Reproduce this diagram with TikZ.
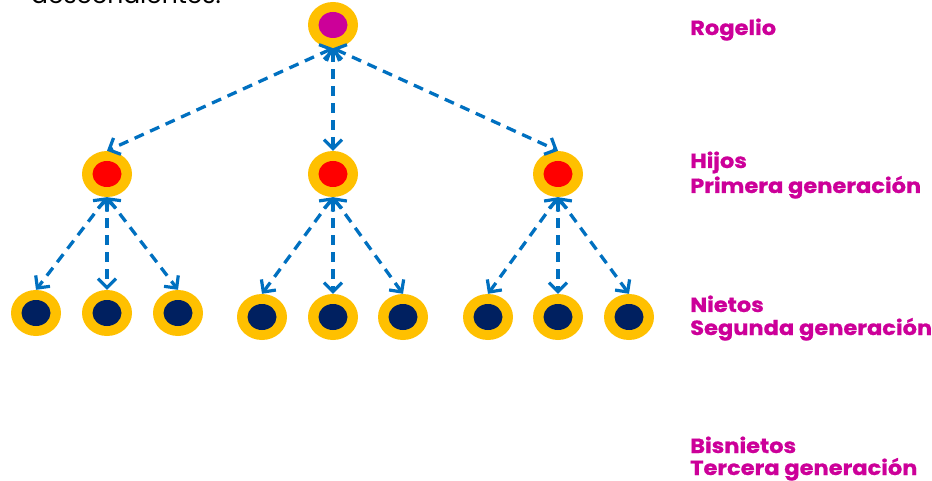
\documentclass[tikz,border=0pt]{standalone}
\usepackage{fontspec}
\setmainfont{Poppins}
\newfontfamily\labfont{Poppins}[FakeStretch=1.1,FakeBold=0.8]
\usetikzlibrary{arrows.meta,shapes.geometric}
\definecolor{gold}{HTML}{FFC000}
\definecolor{rootc}{HTML}{CC0099}
\definecolor{childc}{HTML}{FF0000}
\definecolor{grandc}{HTML}{002060}
\definecolor{arrowc}{HTML}{0070C0}
\definecolor{labc}{HTML}{CC0099}
\tikzset{
  person/.style={ellipse, fill=gold, minimum width=50pt, minimum height=46pt, inner sep=0pt},
  tipbarb/.style={Straight Barb[length=9pt,width=18pt,line width=3.2pt]},
  link/.style={arrowc, line width=3.3pt, dash pattern=on 10pt off 7pt,
    {Straight Barb[length=9pt,width=18pt,line width=3.2pt]}-{Straight Barb[length=9pt,width=18pt,line width=3.2pt]}},
  genlab/.style={anchor=base west, text=labc, font=\labfont\bfseries\fontsize{20.5}{25}\selectfont, inner sep=0pt},
}
\newcommand{\inner}[2]{\fill[#2] (#1.center) ellipse (14.5pt and 13pt);}
\begin{document}
\begin{tikzpicture}[x=1pt,y=-1pt]
\useasboundingbox (0,0) rectangle (932,481);
\node[anchor=base west, font=\fontsize{25}{30}\selectfont, inner sep=0pt] (intro) at (31,4) {descendientes.};
% root
\node[person] (r) at (333,25) {};
% children
\node[person] (a) at (107,174) {};
\node[person] (b) at (333,174) {};
\node[person] (c) at (558,174) {};
% grandchildren
\node[person] (a1) at (36,313) {};
\node[person] (a2) at (107,313) {};
\node[person] (a3) at (178,313) {};
\node[person] (b1) at (262,317) {};
\node[person] (b2) at (333,317) {};
\node[person] (b3) at (403,317) {};
\node[person] (c1) at (488,317) {};
\node[person] (c2) at (558,317) {};
\node[person] (c3) at (629,317) {};
\inner{r}{rootc}
\foreach \n in {a,b,c} {\inner{\n}{childc}}
\foreach \n in {a1,a2,a3,b1,b2,b3,c1,c2,c3} {\inner{\n}{grandc}}
% connectors
\foreach \n in {a,b,c} {\draw[link] (r.south) -- (\n.north);}
\foreach \p in {a,b,c} {\foreach \k in {1,2,3} {\draw[link] (\p.south) -- (\p\k.north);}}
% labels
\node[genlab] (l0) at (690,35) {Rogelio};
\node[genlab] (l1a) at (690,168) {Hijos};
\node[genlab] (l1b) at (690,193) {Primera generación};
\node[genlab] (l2a) at (690,312) {Nietos};
\node[genlab] (l2b) at (690,335) {Segunda generación};
\node[genlab] (l3a) at (690,453) {Bisnietos};
\node[genlab] (l3b) at (690,475) {Tercera generación};
\end{tikzpicture}
\end{document}
